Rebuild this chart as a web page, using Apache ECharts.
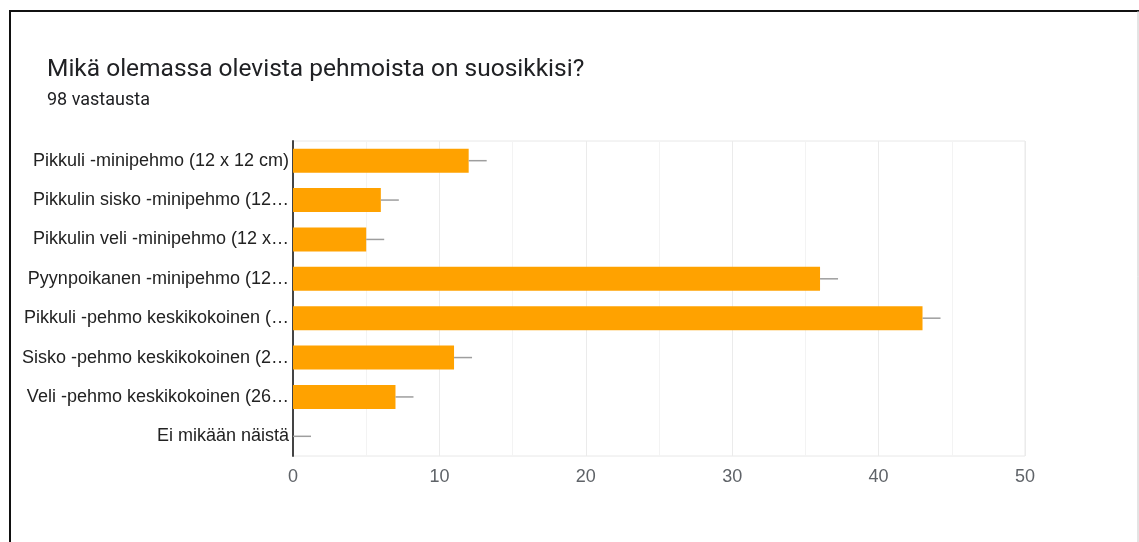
<!DOCTYPE html>
<html>
<head>
<meta charset="utf-8">
<script src="https://cdn.jsdelivr.net/npm/echarts@6/dist/echarts.min.js"></script>
<style>
  html, body { margin: 0; padding: 0; background: #fff; }
  #chart { width: 1139px; height: 542px; }
</style>
</head>
<body>
<div id="chart"></div>
<script>
const titleText = 'Mikä olemassa olevista pehmoista on suosikkisi?'
const subtitleText = '98 vastausta'

const categories = [
  'Pikkuli -minipehmo (12 x 12 cm)',
  'Pikkulin sisko -minipehmo (12…',
  'Pikkulin veli -minipehmo (12 x…',
  'Pyynpoikanen -minipehmo (12…',
  'Pikkuli -pehmo keskikokoinen (…',
  'Sisko -pehmo keskikokoinen (2…',
  'Veli -pehmo keskikokoinen (26…',
  'Ei mikään näistä'
]
const counts = [12, 6, 5, 36, 43, 11, 7, 0]
const xTicks = [0, 10, 20, 30, 40, 50]

const labelFont = 'Arial, "Liberation Sans", sans-serif'

const chart = echarts.init(document.getElementById('chart'))

const option = {
  animation: false,
  title: [
    {
      text: titleText,
      left: 42,
      top: 52,
      textStyle: { fontFamily: 'Roboto', fontSize: 24.5, fontWeight: 'normal', color: '#202124' }
    },
    {
      text: subtitleText,
      left: 42,
      top: 86,
      textStyle: { fontFamily: 'Roboto', fontSize: 18, fontWeight: 'normal', color: '#202124' }
    }
  ],
  graphic: [
    { type: 'line', shape: { x1: 9, y1: 11, x2: 1139, y2: 11 }, style: { stroke: '#111', lineWidth: 2 } },
    { type: 'line', shape: { x1: 10, y1: 11, x2: 10, y2: 542 }, style: { stroke: '#111', lineWidth: 2 } },
    { type: 'line', shape: { x1: 1138, y1: 11, x2: 1138, y2: 542 }, style: { stroke: '#c8c8c8', lineWidth: 1 } }
  ],
  grid: {
    left: 293,
    right: 114,
    top: 141,
    bottom: 86,
    show: true,
    borderColor: '#e8e8e8',
    borderWidth: 1
  },
  xAxis: {
    type: 'value',
    min: 0,
    max: 50,
    interval: 10,
    axisLine: { show: false },
    axisTick: { show: false },
    axisLabel: {
      margin: 12,
      fontFamily: labelFont,
      fontSize: 18,
      color: '#5f6368',
      formatter: v => (xTicks.includes(v) ? String(v) : '')
    },
    splitLine: { lineStyle: { color: '#ebebeb', width: 1 } },
    minorTick: { show: false, splitNumber: 2 },
    minorSplitLine: { show: true, lineStyle: { color: '#f3f3f3', width: 1 } }
  },
  yAxis: {
    type: 'category',
    inverse: true,
    data: categories,
    axisLine: { show: true, lineStyle: { color: '#444', width: 2 } },
    axisTick: { show: false },
    axisLabel: {
      margin: 4,
      fontFamily: labelFont,
      fontSize: 18,
      color: '#222'
    }
  },
  series: [
    {
      type: 'bar',
      data: counts,
      barCategoryGap: '39%',
      itemStyle: { color: '#ffa200' },
      z: 2
    },
    {
      type: 'custom',
      data: counts.map((v, i) => [v, i]),
      z: 3,
      renderItem: function (params, api) {
        const p = api.coord([api.value(0), api.value(1)])
        return {
          type: 'line',
          shape: { x1: p[0], y1: p[1], x2: p[0] + 18, y2: p[1] },
          style: { stroke: '#9e9e9e', lineWidth: 1.5 }
        }
      }
    }
  ]
}

chart.setOption(option)
</script>
</body>
</html>
